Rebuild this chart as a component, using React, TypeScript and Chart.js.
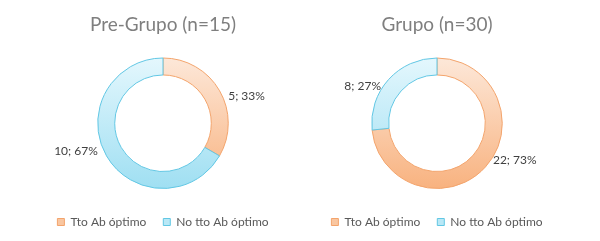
import React, { useEffect, useRef } from "react";
import { Chart, registerables } from "chart.js";

Chart.register(...registerables);

const categories = ["Tto Ab óptimo", "No tto Ab óptimo"];
const preTitle = "Pre-Grupo (n=15)";
const preValues = [5, 10];
const prePercents = [33, 67];
const grupoTitle = "Grupo (n=30)";
const grupoValues = [22, 8];
const grupoPercents = [73, 27];

const FONT = "Lato, 'Open Sans', sans-serif";

const gradTop = ["#fde8d9", "#e4f7fd"];
const gradBottom = ["#f8b27f", "#9fdff2"];
const solid = ["#f9c6a0", "#b9e8f6"];
const borders = ["#f3a46c", "#62c7e4"];

const labelPlugin = {
  id: "outerLabels",
  afterDatasetsDraw(chart: any) {
    const ctx = chart.ctx;
    const meta = chart.getDatasetMeta(0);
    const ds = chart.data.datasets[0] as any;
    ctx.save();
    ctx.font = `12px ${FONT}`;
    ctx.fillStyle = "#404040";
    ctx.textBaseline = "middle";
    meta.data.forEach((arc: any, i: number) => {
      const { x, y, startAngle, endAngle, outerRadius } = arc.getProps(
        ["x", "y", "startAngle", "endAngle", "outerRadius"],
        true
      );
      const mid = (startAngle + endAngle) / 2;
      const c = Math.cos(mid);
      const s = Math.sin(mid);
      const px = x + c * (outerRadius + 10);
      const py = y + s * (outerRadius - 10);
      ctx.textAlign = c >= 0 ? "left" : "right";
      ctx.fillText(`${ds.data[i]}; ${ds.percents[i]}%`, px, py);
    });
    ctx.restore();
  },
};

function Donut({ title, values, percents, left }: { title: string; values: number[]; percents: number[]; left: number }) {
  const ref = useRef<HTMLCanvasElement>(null);
  useEffect(() => {
    if (!ref.current) return;
    const chart = new Chart(ref.current, {
      type: "doughnut",
      data: {
        labels: categories,
        datasets: [
          {
            data: values,
            percents,
            backgroundColor: (c: any) => {
              const area = c.chart.chartArea;
              const i = c.dataIndex ?? 0;
              if (!area) return solid[i];
              const g = c.chart.ctx.createLinearGradient(0, area.top, 0, area.bottom);
              g.addColorStop(0, gradTop[i]);
              g.addColorStop(1, gradBottom[i]);
              return g;
            },
            borderColor: borders,
            borderWidth: 1,
          } as any,
        ],
      },
      options: {
        animation: false,
        responsive: false,
        cutout: "74%",
        layout: { padding: { bottom: 3 } },
        plugins: {
          tooltip: { enabled: false },
          title: {
            display: true,
            text: title,
            color: "#7f7f7f",
            font: { family: FONT, size: 19, weight: "normal" },
            padding: { top: 13, bottom: 21.7 },
          },
          legend: {
            position: "bottom",
            title: {
              display: true,
              text: " ",
              font: { family: FONT, size: 2 },
              padding: { top: 4, bottom: 3.6 },
            },
            labels: {
              color: "#595959",
              font: { family: FONT, size: 12 },
              boxWidth: 7,
              boxHeight: 7,
              padding: 17,
              generateLabels: () =>
                categories.map((t, i) => ({
                  text: t,
                  fillStyle: solid[i],
                  strokeStyle: borders[i],
                  lineWidth: 1,
                  fontColor: "#595959",
                  index: i,
                  hidden: false,
                })),
            },
          },
        },
      } as any,
      plugins: [labelPlugin],
    });
    return () => chart.destroy();
  }, []);
  return (
    <canvas
      ref={ref}
      width={274}
      height={241}
      style={{ position: "absolute", left, top: 0, width: 274, height: 241 }}
    />
  );
}

export default function App() {
  return (
    <div style={{ position: "fixed", left: 0, top: 0, width: 600, height: 241, background: "#fff" }}>
      <Donut title={preTitle} values={preValues} percents={prePercents} left={26} />
      <Donut title={grupoTitle} values={grupoValues} percents={grupoPercents} left={300} />
    </div>
  );
}
